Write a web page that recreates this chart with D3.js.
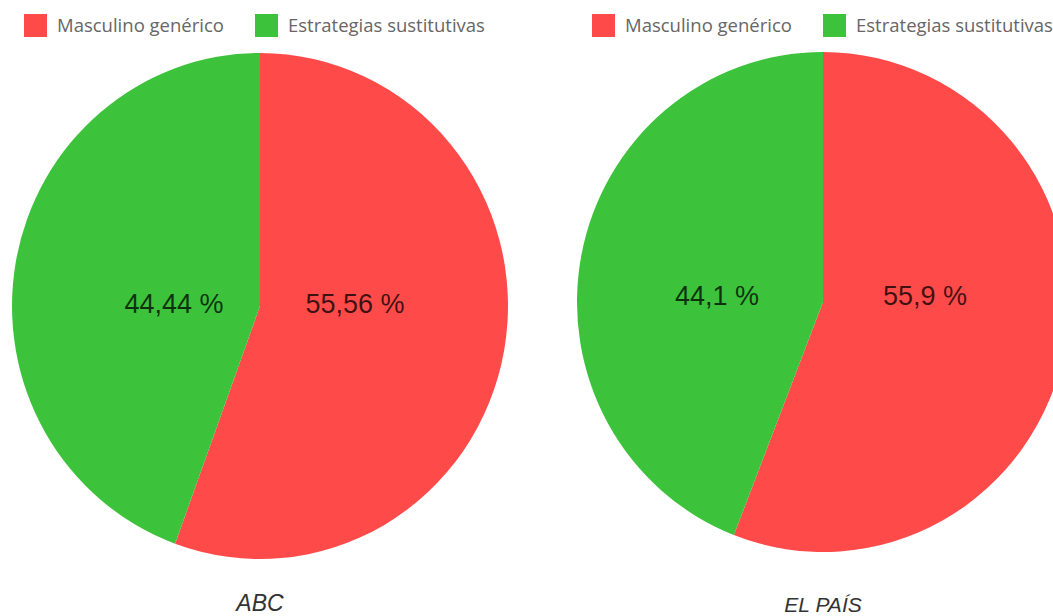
<!DOCTYPE html>
<html>
<head>
<meta charset="utf-8">
<script src="https://cdn.jsdelivr.net/npm/d3@7"></script>
<style>
  body { margin: 0; background: #fff; }
  svg { display: block; }
</style>
</head>
<body>
<div id="chart"></div>
<script>
// Data
const categories = ["Masculino genérico", "Estrategias sustitutivas"];
const colors = ["#ff4a4a", "#3cc23b"];
const papers = ["ABC", "EL PAÍS"];
const values = [[55.56, 44.44], [55.9, 44.1]];
const labels = [["55,56 %", "44,44 %"], ["55,9 %", "44,1 %"]];

const width = 1053, height = 616;

const svg = d3.select("#chart")
    .append("svg")
    .attr("width", width)
    .attr("height", height);

// layout of each panel
const panels = [
    {cx: 260, cy: 306, rx: 248, ry: 253, legendX: 24, labelDx: [95, -86], labelY: 313, titleY: 611, titleSize: 23},
    {cx: 823, cy: 302, rx: 246, ry: 250, legendX: 592, labelDx: [102, -106], labelY: 305, titleY: 612, titleSize: 21}
];

const pie = d3.pie().sort(null);

panels.forEach((p, i) => {
    const g = svg.append("g");

    // Legend
    const legendOffsets = [0, 231];
    categories.forEach((c, j) => {
        const lg = g.append("g")
            .attr("transform", `translate(${p.legendX + legendOffsets[j]},14)`);
        lg.append("rect")
            .attr("width", 23)
            .attr("height", 23)
            .attr("fill", colors[j]);
        lg.append("text")
            .attr("x", 33)
            .attr("y", 18)
            .attr("font-family", "'Open Sans', sans-serif")
            .attr("font-size", 18.5)
            .attr("fill", "#666")
            .text(c);
    });

    // Pie (scaled to an ellipse like the source picture)
    const r = p.rx;
    const arc = d3.arc().innerRadius(0).outerRadius(r);
    const pg = g.append("g")
        .attr("transform", `translate(${p.cx},${p.cy}) scale(1,${p.ry / p.rx})`);
    const arcs = pie(values[i]);
    pg.selectAll("path")
        .data(arcs)
        .enter()
        .append("path")
        .attr("d", arc)
        .attr("fill", (d, j) => colors[j]);

    // Labels
    g.selectAll("text.lbl")
        .data(arcs)
        .enter()
        .append("text")
        .attr("class", "lbl")
        .attr("x", (d, j) => p.cx + p.labelDx[j])
        .attr("y", p.labelY)
        .attr("text-anchor", "middle")
        .attr("font-family", "'Liberation Sans', Arial, sans-serif")
        .attr("font-size", 27)
        .attr("fill", "#000")
        .attr("fill-opacity", 0.75)
        .text((d, j) => labels[i][j]);

    // Title
    g.append("text")
        .attr("x", p.cx)
        .attr("y", p.titleY)
        .attr("text-anchor", "middle")
        .attr("font-family", "'Liberation Sans', Arial, sans-serif")
        .attr("font-style", "italic")
        .attr("font-size", p.titleSize)
        .attr("fill", "#333")
        .text(papers[i]);
});
</script>
</body>
</html>
